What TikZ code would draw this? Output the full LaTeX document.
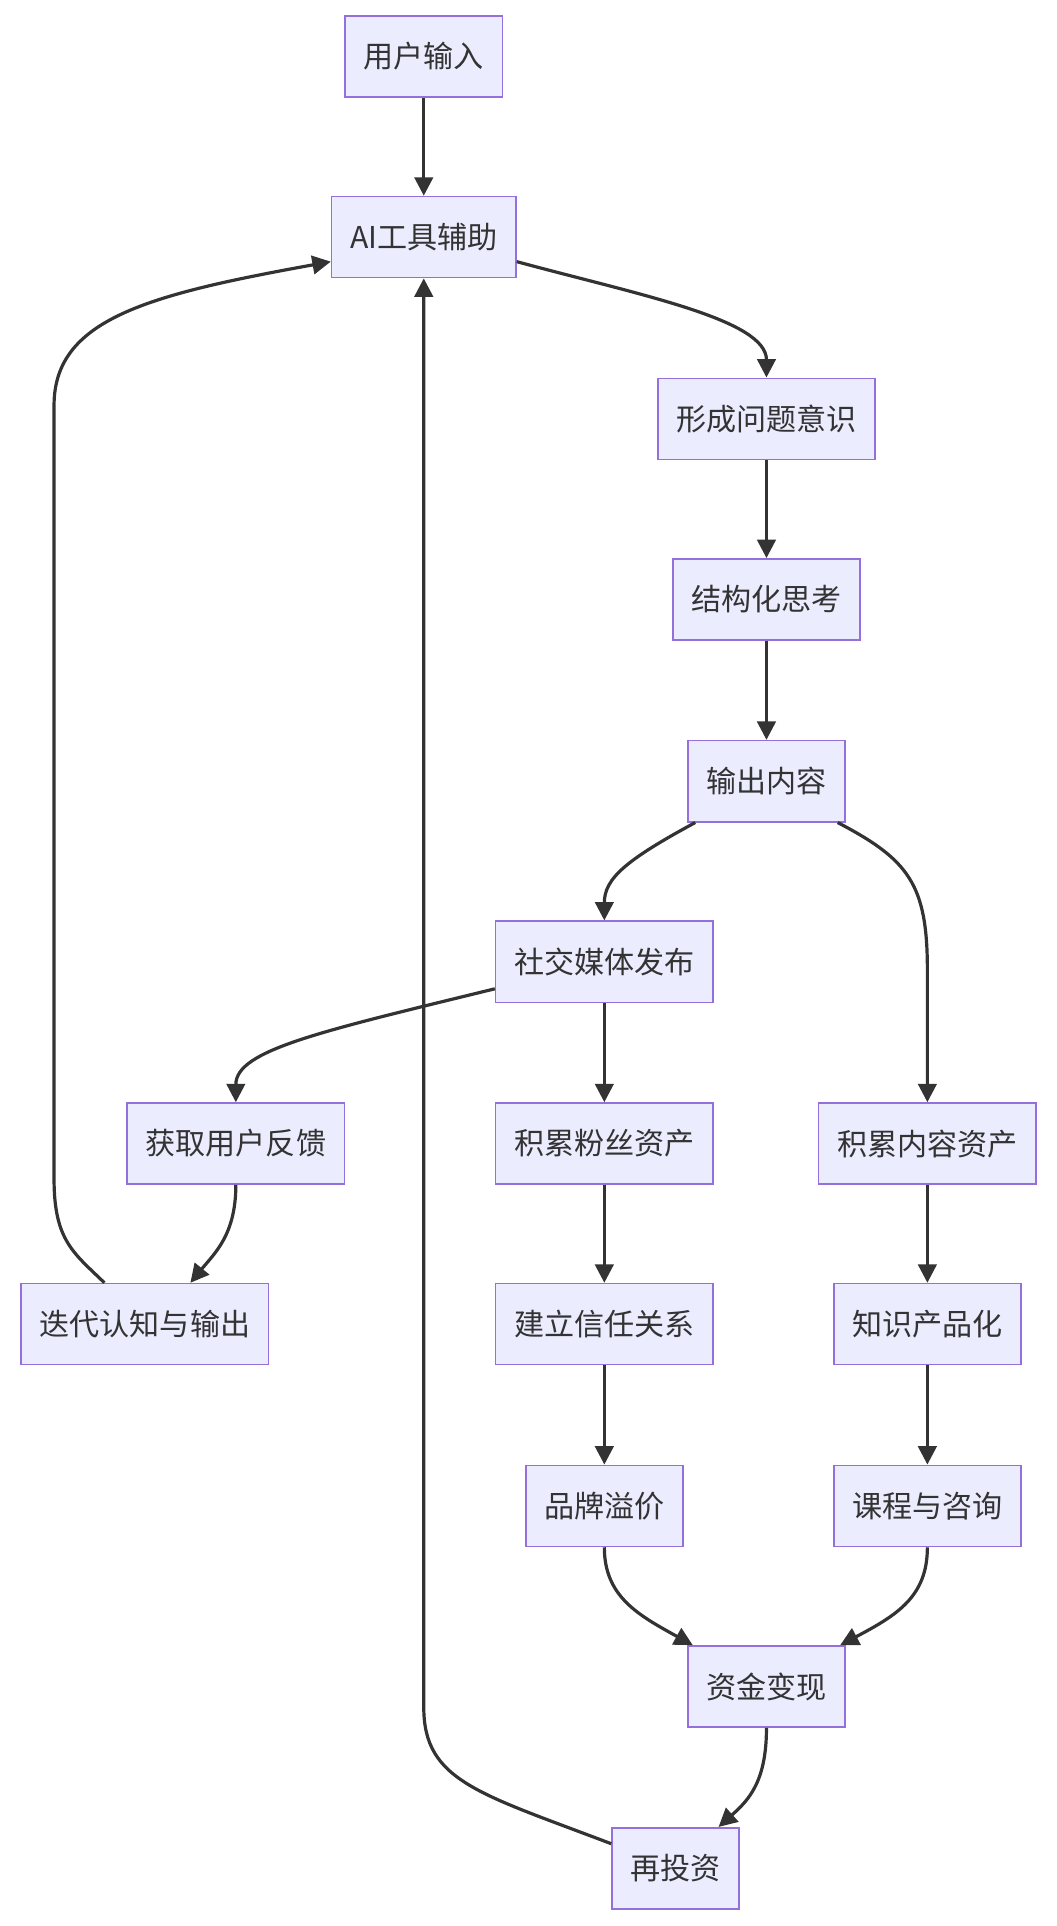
\documentclass[tikz,border=0pt]{standalone}
\usepackage{fontspec}
\setmainfont{Noto Sans CJK SC}
\usetikzlibrary{arrows.meta}
\definecolor{nfill}{HTML}{ECECFF}
\definecolor{nline}{HTML}{9370DB}
\definecolor{eline}{HTML}{333333}
\begin{document}
\begin{tikzpicture}[x=1pt,y=-1pt,
  box/.style={draw=nline,fill=nfill,line width=1.3pt,minimum height=66pt,inner xsep=15pt,font=\fontsize{24.5}{28}\selectfont,text=eline},
  e/.style={draw=eline,line width=2.6pt,-{Triangle[length=15pt,width=15pt]}}]
\useasboundingbox (0,0) rectangle (860,1568);
\node[box] (in) at (345,46) {用户输入};
\node[box] (ai) at (345,193) {AI工具辅助};
\node[box] (wt) at (624,341) {形成问题意识};
\node[box] (jg) at (624,488) {结构化思考};
\node[box] (sc) at (624,636) {输出内容};
\node[box] (sj) at (492,783) {社交媒体发布};
\node[box] (fk) at (192,931) {获取用户反馈};
\node[box] (fs) at (492,931) {积累粉丝资产};
\node[box] (jn) at (755,931) {积累内容资产};
\node[box] (dd) at (118,1078) {迭代认知与输出};
\node[box] (xr) at (492,1078) {建立信任关系};
\node[box] (zs) at (755,1078) {知识产品化};
\node[box] (pp) at (492,1226) {品牌溢价};
\node[box] (kc) at (755,1226) {课程与咨询};
\node[box] (bx) at (624,1373) {资金变现};
\node[box] (rt) at (550,1521) {再投资};
\draw[e] (in) -- (ai);
\draw[e] ([yshift=-20pt]ai.east) .. controls (520,240) and (624,260) .. (wt.north);
\draw[e] (wt) -- (jg);
\draw[e] (jg) -- (sc);
\draw[e] ([xshift=-58pt]sc.south) .. controls (510,700) and (492,715) .. (sj.north);
\draw[e] ([xshift=58pt]sc.south) .. controls (740,700) and (755,720) .. (755,790) -- (jn.north);
\draw[e] ([yshift=-22pt]sj.west) .. controls (260,840) and (192,855) .. (fk.north);
\draw[e] (sj) -- (fs);
\draw[e] (fs) -- (xr);
\draw[e] (xr) -- (pp);
\draw[e] (jn) -- (zs);
\draw[e] (zs) -- (kc);
\draw[e] (fk.south) .. controls (192,1005) and (175,1020) .. ([xshift=37pt]dd.north);
\draw[e] ([xshift=-33pt]dd.north) .. controls (60,1020) and (44,1010) .. (44,960) -- (44,330) .. controls (44,260) and (120,240) .. ([yshift=-20pt]ai.west);
\draw[e] ([yshift=20pt]rt.west) .. controls (390,1460) and (345,1450) .. (345,1390) -- (ai.south);
\draw[e] (pp.south) .. controls (492,1300) and (520,1315) .. ([xshift=-60pt]bx.north);
\draw[e] (kc.south) .. controls (755,1300) and (730,1315) .. ([xshift=60pt]bx.north);
\draw[e] (bx.south) .. controls (624,1450) and (610,1465) .. ([xshift=35pt]rt.north);
\end{tikzpicture}
\end{document}
